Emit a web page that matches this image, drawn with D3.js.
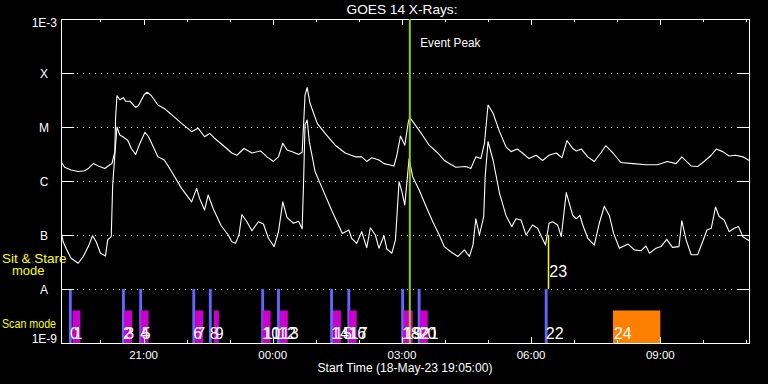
<!DOCTYPE html>
<html><head><meta charset="utf-8">
<script src="https://cdn.jsdelivr.net/npm/d3@7"></script>
<style>html,body{margin:0;padding:0;background:#000;}svg{display:block;}</style>
</head><body>
<svg id="chart" width="768" height="384"></svg>
<script>
// ---------- DATA ----------
const startTime = Date.UTC(2023, 4, 18, 19, 5, 0);   // 18-May-23 19:05:00
const spanMinutes = 960;                               // 16 hours shown

// GOES 14 long channel (1-8 A), minutes after start / flux W m^-2
const longMin = [
  0,5,14,24,33,38,45,52,61,68,
  71,75,76,78,82,87,90,96,104,108,
  116,120,126,135,144,154,168,182,191,200,
  207,214,228,238,245,255,266,278,287,296,
  303,309,315,324,331,336,338,340,343,347,
  357,368,382,396,410,419,426,433,443,450,
  457,464,468,473,479,484,486,492,502,513,
  525,534,550,564,571,578,585,590,595,602,
  611,620,627,636,643,652,662,671,680,690,
  698,705,713,718,725,734,743,752,759,769,
  780,797,815,831,845,857,865,878,887,896,
  906,913,922,931,940,950,959];
const longFlux = [
  2.3e-6,1.8e-6,1.6e-6,1.5e-6,1.55e-6,1.7e-6,2.1e-6,1.9e-6,1.7e-6,2.0e-6,
  2.1e-6,3.5e-6,1.45e-5,3.8e-5,3.2e-5,3.5e-5,3.0e-5,3.0e-5,2.3e-5,2.5e-5,
  4.0e-5,4.4e-5,3.8e-5,2.55e-5,2.2e-5,1.7e-5,1.17e-5,8.2e-6,9.5e-6,6.6e-6,
  7.6e-6,6.2e-6,4.3e-6,3.3e-6,3.0e-6,4.0e-6,3.3e-6,3.6e-6,2.8e-6,2.3e-6,
  2.8e-6,5.0e-6,3.75e-6,3.4e-6,3.1e-6,3.4e-6,1.1e-5,3.9e-5,5.35e-5,2.75e-5,
  1.17e-5,7.6e-6,4.6e-6,3.3e-6,2.8e-6,2.8e-6,2.3e-6,2.7e-6,2.45e-6,2.1e-6,
  2.0e-6,1.9e-6,3.0e-6,6.8e-6,4.6e-6,1.25e-5,1.5e-5,1.17e-5,7.6e-6,4.6e-6,
  3.3e-6,2.4e-6,1.8e-6,1.85e-6,1.7e-6,2.8e-6,2.6e-6,5.0e-6,2.55e-5,1.8e-5,
  8.2e-6,4.3e-6,3.5e-6,3.9e-6,3.3e-6,2.6e-6,3.0e-6,2.4e-6,3.0e-6,3.3e-6,
  2.7e-6,5.6e-6,4.0e-6,3.6e-6,3.9e-6,2.8e-6,2.3e-6,3.3e-6,4.5e-6,3.3e-6,
  2.2e-6,2.1e-6,2.0e-6,2.0e-6,2.3e-6,2.1e-6,2.8e-6,1.9e-6,1.85e-6,2.3e-6,
  3.0e-6,3.9e-6,3.5e-6,2.9e-6,3.0e-6,2.8e-6,2.4e-6];

// GOES 14 short channel (0.5-4 A)
const shortMin = [
  0,3,7,14,24,31,38,44,49,55,
  62,65,70,72,76,78,82,86,93,98,
  104,110,117,122,135,144,154,168,182,189,
  193,200,205,212,223,233,238,243,248,252,
  259,266,275,282,289,297,303,309,315,324,
  331,336,338,340,343,346,354,364,378,392,
  401,405,412,419,426,431,438,443,450,454,
  461,466,471,475,479,482,485,490,499,509,
  518,527,534,543,553,562,569,574,578,583,
  589,591,595,602,611,620,628,634,641,648,
  657,664,675,680,685,692,697,704,713,718,
  723,727,734,743,750,757,764,770,778,790,
  799,808,815,820,829,836,844,852,861,865,
  871,878,887,894,900,906,912,917,924,931,
  938,944,950,959];
const shortFlux = [
  1.15e-7,7.5e-8,5.7e-8,3.7e-8,3.0e-8,4.0e-8,6.1e-8,9.7e-8,7.5e-8,4.6e-8,
  4.1e-8,8.1e-8,9.3e-8,8.4e-7,4.6e-6,1.0e-5,7.1e-6,6.6e-6,5.7e-6,4.0e-6,
  3.1e-6,5.0e-6,8.0e-6,6.6e-6,2.8e-6,2.45e-6,1.5e-6,7.3e-7,4.1e-7,7.3e-7,
  4.8e-7,2.9e-7,5.5e-7,3.1e-7,1.5e-7,1.0e-7,7.5e-8,7.0e-8,1.0e-7,2.4e-7,
  1.76e-7,1.2e-7,1.76e-7,1.6e-7,8.7e-8,6.1e-8,1.15e-7,4.1e-7,2.1e-7,1.65e-7,
  1.8e-7,1.3e-7,9.7e-7,1.1e-5,1.35e-5,5.35e-6,1.5e-6,7.3e-7,2.7e-7,1.07e-7,
  1.24e-7,8.7e-8,7.0e-8,1.15e-7,5.8e-8,1.36e-7,1.0e-7,5.7e-8,9.7e-8,5.5e-8,
  4.6e-8,8.1e-8,9.7e-7,6.3e-7,3.6e-7,9.7e-7,2.6e-6,1.2e-6,6.8e-7,3.3e-7,
  1.76e-7,1.0e-7,6.1e-8,4.9e-8,4.0e-8,5.3e-8,4.0e-8,6.5e-8,2.0e-7,1.0e-7,
  2.2e-7,1.2e-6,5.35e-6,2.45e-6,5.9e-7,2.3e-7,1.43e-7,2.0e-7,1.9e-7,1.0e-7,
  1.53e-7,1.33e-7,6.5e-8,1.65e-7,1.76e-7,1.53e-7,9.3e-8,6.1e-7,2.3e-7,2.0e-7,
  2.3e-7,1.53e-7,8.7e-8,6.5e-8,1.65e-7,3.4e-7,2.3e-7,1.07e-7,5.7e-8,6.8e-8,
  5.3e-8,5.1e-8,6.25e-8,4.6e-8,5.7e-8,6.1e-8,8.3e-8,5.9e-8,6.1e-8,1.84e-7,
  8.1e-8,4.3e-8,4.3e-8,7.5e-8,1.24e-7,1.33e-7,3.3e-7,2.2e-7,1.9e-7,1.15e-7,
  1.33e-7,1.43e-7,9.3e-8,7.8e-8];

// Sit & stare observations (blue), scan mode observations (magenta)
const sitLabels = [0,2,4,6,8,10,12,14,16,18,20,22];
const sitStart  = [11,85,109,183,206,279,301,375,399,474,497,674];
const sitDur    = [4,4,4,4,4,4,4,4,4,4,4,4];
const scanLabels = [1,3,5,7,9,11,13,15,17,19,21];
const scanStart  = [16,88,111,187,213,281,305,379,401,477,500];
const scanDur    = [11,11,11,11,7,11,11,11,11,13,11];
// other observations
const markLabel = 23, markTime = 679;               // yellow marker
const longObsLabel = 24, longObsStart = 769, longObsDur = 66;  // orange block
const eventPeakMin = 486;

const yTickValues = [1e-9,1e-8,1e-7,1e-6,1e-5,1e-4,1e-3];
const yTickLabels = ["1E-9","A","B","C","M","X","1E-3"];
const gridValues  = [1e-8,1e-7,1e-6,1e-5,1e-4];

// ---------- DRAW ----------
const L = 61, R = 750, T = 19, B = 343;
const svg = d3.select("#chart");
svg.append("rect").attr("width",768).attr("height",384).attr("fill","#000");
const FONT = "Liberation Sans, Arial, sans-serif";

const tAt = m => new Date(startTime + m * 60000);
const x = d3.scaleUtc().domain([tAt(0), tAt(spanMinutes)]).range([L, R]);
const y = d3.scaleLog().domain([1e-9, 1e-3]).range([B, T]);

// dotted grid lines
svg.append("g").selectAll("line").data(gridValues).join("line")
  .attr("x1", L + 16).attr("x2", R - 15)
  .attr("y1", d => Math.round(y(d)) + 0.5).attr("y2", d => Math.round(y(d)) + 0.5)
  .attr("stroke", "#fff").attr("stroke-width", 1).attr("stroke-dasharray", "1,5");

// blue bars
const blueCol = "#6464ff", magCol = "#cc00cc", orangeCol = "#ff8000";
svg.append("g").selectAll("rect").data(sitStart).join("rect")
  .attr("x", d => x(tAt(d)))
  .attr("width", (d,i) => x(tAt(d + sitDur[i])) - x(tAt(d)))
  .attr("y", y(1e-8)).attr("height", y(1e-9) - y(1e-8))
  .attr("fill", blueCol);
// magenta bars
const scanTop = 4e-9;
svg.append("g").selectAll("rect").data(scanStart).join("rect")
  .attr("x", d => x(tAt(d)))
  .attr("width", (d,i) => x(tAt(d + scanDur[i])) - x(tAt(d)))
  .attr("y", y(scanTop)).attr("height", y(1e-9) - y(scanTop))
  .attr("fill", magCol);
// orange block
svg.append("rect")
  .attr("x", x(tAt(longObsStart)))
  .attr("width", x(tAt(longObsStart + longObsDur)) - x(tAt(longObsStart)))
  .attr("y", y(scanTop)).attr("height", y(1e-9) - y(scanTop))
  .attr("fill", orangeCol);
// yellow marker
svg.append("line")
  .attr("x1", Math.round(x(tAt(markTime))) + 0.5).attr("x2", Math.round(x(tAt(markTime))) + 0.5)
  .attr("y1", y(1e-7)).attr("y2", y(1e-8))
  .attr("stroke", "#ffff00").attr("stroke-width", 1.5);

// curves
svg.append("clipPath").attr("id","clip").append("rect")
  .attr("x", L).attr("y", T).attr("width", R - L).attr("height", B - T);
const line = d3.line().x(d => x(tAt(d[0]))).y(d => y(d[1]));
const longData = longMin.map((m,i) => [m, longFlux[i]]);
const shortData = shortMin.map((m,i) => [m, shortFlux[i]]);
[longData, shortData].forEach(data => {
  svg.append("path").datum(data).attr("d", line)
    .attr("clip-path","url(#clip)")
    .attr("fill","none").attr("stroke","#fff").attr("stroke-width",1.1)
    .attr("stroke-linejoin","round");
});

// frame
svg.append("rect").attr("x", L + 0.5).attr("y", T + 0.5)
  .attr("width", R - L - 1).attr("height", B - T)
  .attr("fill","none").attr("stroke","#fff").attr("stroke-width",1);

// y ticks (both sides)
const yt = svg.append("g");
yTickValues.forEach(v => {
  const yy = Math.round(y(v)) + 0.5;
  yt.append("line").attr("x1", L).attr("x2", L + 13).attr("y1", yy).attr("y2", yy).attr("stroke","#fff");
  yt.append("line").attr("x1", R - 13).attr("x2", R).attr("y1", yy).attr("y2", yy).attr("stroke","#fff");
});
yTickValues.forEach((v,i) => {
  const lab = yTickLabels[i];
  const yy = y(v);
  const t = yt.append("text").text(lab).attr("fill","#fff")
    .attr("font-family", FONT).attr("font-size", 12);
  if (i === 0) t.attr("x", 57).attr("y", yy).attr("text-anchor","end");
  else if (i === yTickValues.length - 1) t.attr("x", 57).attr("y", yy + 8).attr("text-anchor","end");
  else t.attr("x", 44).attr("y", yy + 4.5).attr("text-anchor","middle");
});

// x ticks top & bottom
const hours = d3.utcHour.range(tAt(0), tAt(spanMinutes));
const majorHours = d3.utcHour.every(3).range(tAt(0), tAt(spanMinutes));
const isMajor = d => d.getUTCHours() % 3 === 0;
const xt = svg.append("g");
hours.forEach(h => {
  const xx = Math.round(x(h)) + 0.5;
  const len = isMajor(h) ? 6 : 3;
  xt.append("line").attr("x1", xx).attr("x2", xx).attr("y1", B).attr("y2", B - len).attr("stroke","#fff");
  xt.append("line").attr("x1", xx).attr("x2", xx).attr("y1", T).attr("y2", T + len).attr("stroke","#fff");
});
const fmt = d3.utcFormat("%H:%M");
xt.selectAll("text").data(majorHours).join("text")
  .attr("x", d => x(d)).attr("y", 359).attr("text-anchor","middle")
  .attr("fill","#fff").attr("font-family", FONT).attr("font-size", 11.5)
  .text(d => fmt(d));

// event peak line
const ex = x(tAt(eventPeakMin));
svg.append("line").attr("x1", ex).attr("x2", ex).attr("y1", T).attr("y2", B)
  .attr("stroke", "#99cc00").attr("stroke-width", 2);
svg.append("text").attr("x", ex + 10.5).attr("y", 46.5).text("Event Peak")
  .attr("fill","#fff").attr("font-family", FONT).attr("font-size", 12)
  .attr("textLength", 60).attr("lengthAdjust", "spacingAndGlyphs");

// bar labels
const labG = svg.append("g").attr("font-family", FONT).attr("font-size", 16).attr("fill","#fff");
sitStart.forEach((m,i) => labG.append("text").attr("x", x(tAt(m)) + 1).attr("y", 339).text(sitLabels[i]));
scanStart.forEach((m,i) => labG.append("text").attr("x", x(tAt(m)) + 1).attr("y", 339).text(scanLabels[i]));
labG.append("text").attr("x", x(tAt(longObsStart)) + 1).attr("y", 339).text(longObsLabel);
labG.append("text").attr("x", x(tAt(markTime)) + 1).attr("y", 277).text(markLabel);

// titles
svg.append("text").attr("x", 402).attr("y", 13.5).attr("text-anchor","middle")
  .attr("fill","#fff").attr("font-family", FONT).attr("font-size", 13)
  .attr("textLength", 111).attr("lengthAdjust", "spacingAndGlyphs").text("GOES 14 X-Rays:");
svg.append("text").attr("x", 405).attr("y", 372).attr("text-anchor","middle")
  .attr("fill","#fff").attr("font-family", FONT).attr("font-size", 12)
  .attr("textLength", 175).attr("lengthAdjust", "spacingAndGlyphs").text("Start Time (18-May-23 19:05:00)");

// yellow legend text
const leg = svg.append("g").attr("font-family", FONT).attr("fill","#ffff00");
leg.append("text").attr("x", 2).attr("y", 263).attr("font-size", 13.5).text("Sit & Stare");
leg.append("text").attr("x", 12).attr("y", 275).attr("font-size", 13).text("mode");
leg.append("text").attr("x", 2).attr("y", 328).attr("font-size", 12)
  .attr("textLength", 54).attr("lengthAdjust", "spacingAndGlyphs").text("Scan mode");
</script>
</body></html>
